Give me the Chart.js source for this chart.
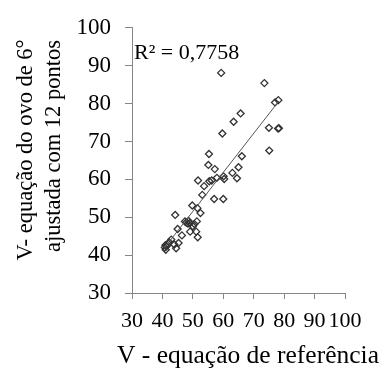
<!DOCTYPE html>
<html lang="pt">
<head>
    <meta charset="UTF-8">
    <title>V - equação do ovo de 6° vs referência</title>
    <script src="https://cdn.jsdelivr.net/npm/chart.js@4.4.1/dist/chart.umd.min.js"></script>
    <style>
        html, body { margin: 0; padding: 0; background: #fff; }
        #wrap { width: 384px; height: 369px; }
    </style>
</head>
<body>
    <div id="wrap"><canvas id="chart" width="384" height="369"></canvas></div>

    <script>
        // valores
        const vReferencia = [59.3, 73.5, 78.1, 77.0, 65.7, 63.4, 59.7, 75.0, 78.3, 78.0, 75.1, 55.3, 66.1, 55.1,
            57.2, 63.0, 65.0, 64.5, 51.7, 55.4, 56.2, 57.9, 60.1, 60.3, 53.7, 53.1, 57.0, 60.0, 49.8, 51.5, 52.5,
            44.2, 47.4, 47.8, 48.4, 51.3, 50.5, 50.0, 49.1, 51.1, 51.6, 46.4, 45.0, 42.9, 45.3, 43.9, 44.5, 41.0,
            41.3, 41.6, 41.1, 42.2, 40.8, 48.6, 49.0];
        const vOvo12 = [88.1, 85.4, 80.9, 80.3, 77.4, 75.2, 72.1, 73.6, 73.5, 73.4, 67.6, 66.7, 66.1, 63.8,
            62.7, 61.7, 63.2, 60.3, 59.7, 59.5, 59.7, 60.4, 60.8, 60.1, 58.2, 55.9, 54.8, 54.8, 53.1, 52.4, 51.1,
            50.6, 48.9, 48.6, 48.3, 48.9, 48.2, 47.6, 46.2, 46.2, 44.7, 45.2, 46.9, 44.1, 43.2, 42.8, 41.8, 42.6,
            42.3, 42.7, 41.4, 43.4, 42.0, 49.0, 48.4];
        const xTicks = [30, 40, 50, 60, 70, 80, 90, 100];
        const yTicks = [30, 40, 50, 60, 70, 80, 90, 100];
        const xTitulo = 'V - equação de referência';
        const yTitulo = ['V- equação do ovo de 6°', 'ajustada com 12 pontos'];
        const r2Label = 'R² = 0,7758';

        const pontos = vReferencia.map((x, i) => ({ x: x, y: vOvo12[i] }));

        // linha de tendência linear (mínimos quadrados) sobre os pontos
        const n = pontos.length;
        const mx = vReferencia.reduce((a, b) => a + b, 0) / n;
        const my = vOvo12.reduce((a, b) => a + b, 0) / n;
        let sxy = 0, sxx = 0;
        pontos.forEach(p => { sxy += (p.x - mx) * (p.y - my); sxx += (p.x - mx) * (p.x - mx); });
        const slope = sxy / sxx;
        const intercept = my - slope * mx;
        const xMin = Math.min(...vReferencia), xMax = Math.max(...vReferencia);
        const tendencia = [
            { x: xMin, y: intercept + slope * xMin },
            { x: xMax, y: intercept + slope * xMax }
        ];

        const serif = "'Liberation Serif', 'Times New Roman', serif";

        // R², títulos dos eixos (o título x é mais largo que a área do gráfico)
        const textos = {
            id: 'textos',
            afterDatasetsDraw(chart) {
                const { ctx, scales } = chart;
                ctx.save();
                ctx.fillStyle = '#000';
                ctx.font = '22px ' + serif;
                ctx.textBaseline = 'middle';
                ctx.fillText(r2Label, scales.x.left + 2, scales.y.getPixelForValue(93.4));

                ctx.textBaseline = 'alphabetic';
                ctx.textAlign = 'center';
                ctx.font = '25.5px ' + serif;
                ctx.fillText(xTitulo, 248, 363);

                ctx.font = '22.5px ' + serif;
                const linhas = [[32, 150], [60, 146]];
                yTitulo.forEach((t, i) => {
                    ctx.save();
                    ctx.translate(linhas[i][0], linhas[i][1]);
                    ctx.rotate(-Math.PI / 2);
                    ctx.fillText(t, 0, 0);
                    ctx.restore();
                });
                ctx.restore();
            }
        };

        new Chart(document.getElementById('chart'), {
            type: 'scatter',
            data: {
                datasets: [{
                    data: pontos,
                    pointStyle: 'rectRot',
                    pointRadius: 3.5,
                    pointBorderWidth: 1.3,
                    borderColor: '#333',
                    backgroundColor: 'rgba(255,255,255,0)',
                    order: 2
                }, {
                    type: 'line',
                    data: tendencia,
                    borderColor: '#555',
                    borderWidth: 1,
                    pointRadius: 0,
                    fill: false,
                    order: 1
                }]
            },
            options: {
                responsive: false,
                animation: false,
                layout: { padding: { top: 25, right: 39, left: 0, bottom: 0 } },
                plugins: {
                    legend: { display: false },
                    tooltip: { enabled: false }
                },
                scales: {
                    x: {
                        type: 'linear',
                        min: 30, max: 100,
                        afterBuildTicks: s => { s.ticks = xTicks.map(v => ({ value: v })); },
                        afterFit: s => { s.height = 76; },
                        grid: { drawOnChartArea: false, tickLength: 6, color: '#868686' },
                        border: { color: '#868686' },
                        ticks: { color: '#000', font: { family: serif, size: 22 }, padding: 9, maxRotation: 0, autoSkip: false }
                    },
                    y: {
                        type: 'linear',
                        min: 30, max: 100,
                        afterBuildTicks: s => { s.ticks = yTicks.map(v => ({ value: v })); },
                        afterFit: s => { s.width = 132; },
                        grid: { drawOnChartArea: false, tickLength: 7, color: '#868686' },
                        border: { color: '#868686' },
                        ticks: { color: '#000', font: { family: serif, size: 23 }, padding: 14 }
                    }
                }
            },
            plugins: [textos]
        });
    </script>
</body>
</html>
